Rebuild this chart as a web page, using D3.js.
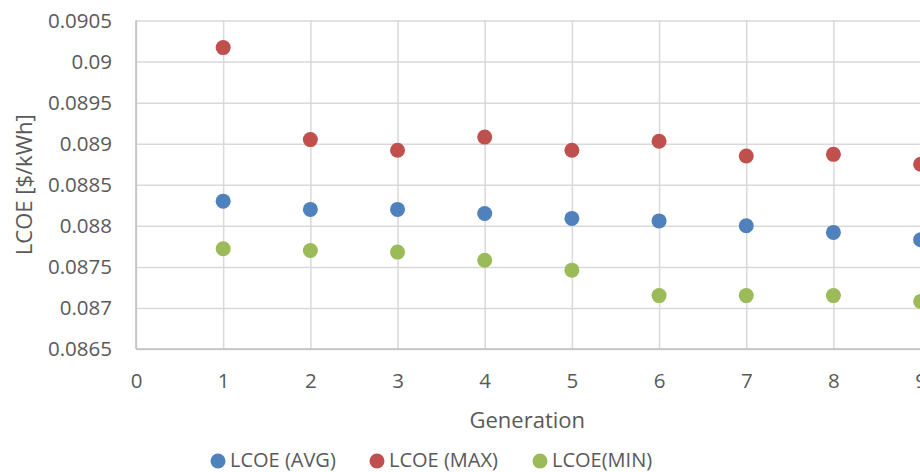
<!DOCTYPE html>
<html>
<head>
<meta charset="utf-8">
<script src="https://cdn.jsdelivr.net/npm/d3@7"></script>
<style>
  html, body { margin: 0; padding: 0; background: #fff; }
  svg { display: block; font-family: "Open Sans", sans-serif; }
</style>
</head>
<body>
<svg id="chart" width="920" height="472"></svg>
<script>
// Generation index for each run
const generations = [1, 2, 3, 4, 5, 6, 7, 8, 9];
// LCOE per generation [$/kWh]
const lcoeAvg = [0.08830, 0.08820, 0.08820, 0.08815, 0.08809, 0.08806, 0.08800, 0.08792, 0.08783];
const lcoeMax = [0.09017, 0.08905, 0.08892, 0.08908, 0.08892, 0.08903, 0.08885, 0.08887, 0.08875];
const lcoeMin = [0.08772, 0.08770, 0.08768, 0.08758, 0.08746, 0.08715, 0.08715, 0.08715, 0.08708];
const yTicks = [0.0865, 0.087, 0.0875, 0.088, 0.0885, 0.089, 0.0895, 0.09, 0.0905];
const xTicks = [0, 1, 2, 3, 4, 5, 6, 7, 8, 9];
const seriesNames = ["LCOE (AVG)", "LCOE (MAX)", "LCOE(MIN)"];
const seriesColors = ["#4F81BD", "#C0504D", "#9BBB59"];

const series = [lcoeAvg, lcoeMax, lcoeMin].map((vals, i) => ({
  name: seriesNames[i],
  color: seriesColors[i],
  points: generations.map((g, j) => ({ x: g, y: vals[j] }))
}));

const svg = d3.select("#chart");
const plot = { left: 136, right: 920.6, top: 20.5, bottom: 349 };

const x = d3.scaleLinear().domain([0, 9]).range([plot.left, plot.right]);
const y = d3.scaleLinear().domain([0.0865, 0.0905]).range([plot.bottom, plot.top]);

const textColor = "#595959";
const gridColor = "#d9d9d9";
const tickFont = "20.5px";

// horizontal gridlines + y tick labels
const yAxis = d3.axisLeft(y).tickValues(yTicks).tickSize(-(plot.right - plot.left)).tickPadding(24)
  .tickFormat(d => d3.format("")(+d.toPrecision(4)));
const gy = svg.append("g").attr("transform", `translate(${plot.left},0)`).call(yAxis);
gy.select(".domain").remove();
gy.selectAll(".tick line").attr("stroke", gridColor).attr("stroke-width", 1.5);
gy.selectAll(".tick text").attr("fill", textColor).style("font-size", tickFont)
  .style("font-family", "'Open Sans', sans-serif");

// vertical gridlines + x tick labels
const xAxis = d3.axisBottom(x).tickValues(xTicks).tickSize(-(plot.bottom - plot.top)).tickPadding(24)
  .tickFormat(d3.format("d"));
const gx = svg.append("g").attr("transform", `translate(0,${plot.bottom})`).call(xAxis);
gx.select(".domain").remove();
gx.selectAll(".tick line").attr("stroke", gridColor).attr("stroke-width", 1.5);
gx.selectAll(".tick text").attr("fill", textColor).style("font-size", tickFont)
  .style("font-family", "'Open Sans', sans-serif");

// axis lines
svg.append("line").attr("x1", plot.left).attr("x2", plot.left)
  .attr("y1", plot.top).attr("y2", plot.bottom).attr("stroke", "#bfbfbf").attr("stroke-width", 1.5);
svg.append("line").attr("x1", plot.left).attr("x2", plot.right)
  .attr("y1", plot.bottom).attr("y2", plot.bottom).attr("stroke", "#bfbfbf").attr("stroke-width", 1.5);

// markers
series.forEach(s => {
  svg.append("g").selectAll("circle").data(s.points).join("circle")
    .attr("cx", d => x(d.x)).attr("cy", d => y(d.y)).attr("r", 7.5)
    .attr("fill", s.color);
});

// axis titles
svg.append("text").attr("x", (plot.left + plot.right) / 2 - 1).attr("y", 428)
  .attr("text-anchor", "middle").attr("fill", textColor).style("font-size", "22px")
  .text("Generation");
svg.append("text").attr("transform", `translate(32,${(plot.top + plot.bottom) / 2}) rotate(-90)`)
  .attr("text-anchor", "middle").attr("fill", textColor).style("font-size", "22px")
  .text("LCOE [$/kWh]");

// legend
const legendX = [218, 377, 540];
const lg = svg.append("g").selectAll("g").data(series).join("g")
  .attr("transform", (d, i) => `translate(${legendX[i]},461)`);
lg.append("circle").attr("r", 7.5).attr("fill", d => d.color);
lg.append("text").attr("x", 12).attr("y", 6).attr("fill", textColor)
  .style("font-size", "20px").text(d => d.name);
</script>
</body>
</html>
